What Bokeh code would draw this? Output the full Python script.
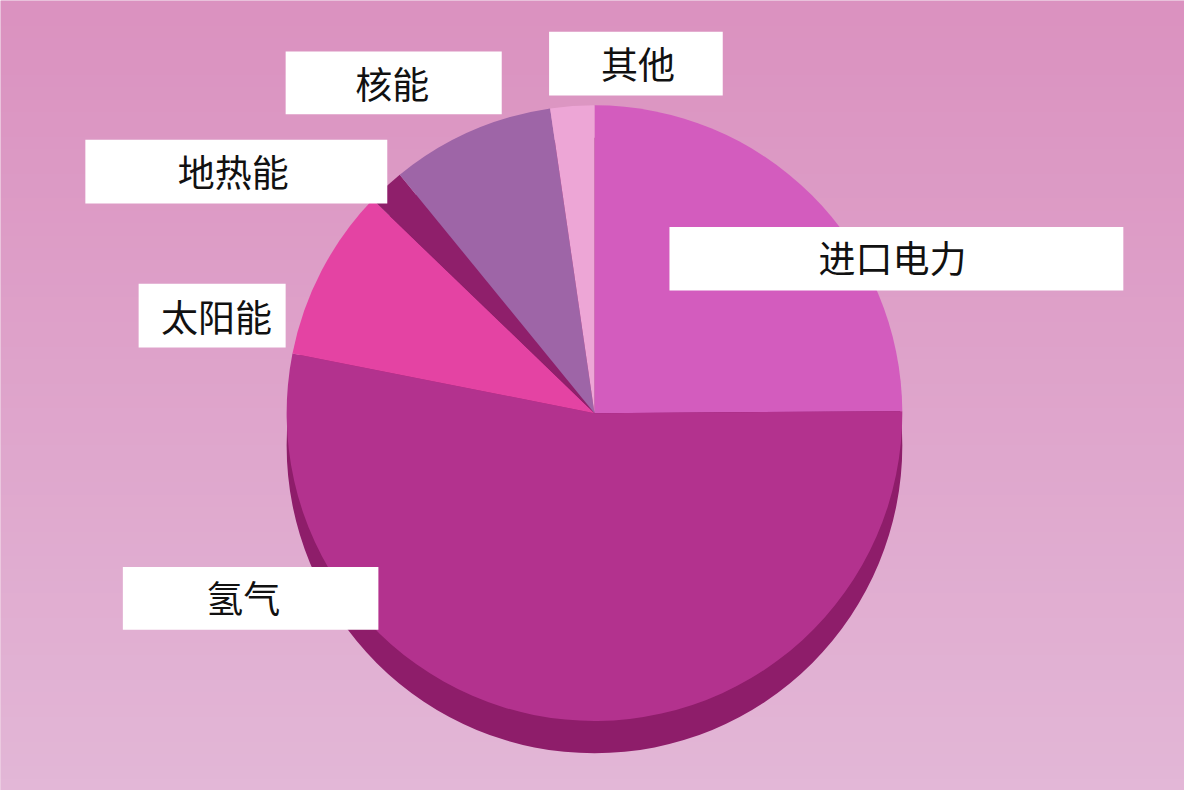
import math
import numpy as np
from bokeh.plotting import figure
from bokeh.models import ColumnDataSource, Range1d
from bokeh.core.properties import value
from bokeh.embed import file_html
from bokeh.resources import INLINE

# share of each energy source, clockwise from 12 o'clock
sources = ["进口电力", "氢气", "太阳能", "地热能", "核能", "其他"]
shares = [24.9, 53.2, 9.1, 1.9, 8.6, 2.3]
colors = ["#D35CBE", "#B3328E", "#E443A3", "#8F1F6B", "#9E65A7", "#EDA6D6"]

# label boxes (image pixel coords: left, right, top, bottom) and text centre
label_boxes = {
    "进口电力": (678, 1138, 231, 296, 904, 262),
    "氢气": (124, 383, 578, 642, 246, 609),
    "太阳能": (140, 289, 289, 354, 219, 322),
    "地热能": (86, 392, 142, 207, 236, 174),
    "核能": (289, 508, 52, 116, 397, 84),
    "其他": (556, 732, 32, 97, 646, 64),
}

W, H = 1200, 806
cx, cy, r, depth = 602, H - 421, 312, 33

p = figure(width=1184, height=790, output_backend="svg", toolbar_location=None, tools="",
           x_range=Range1d(0, W), y_range=Range1d(0, H), min_border=0)
p.xaxis.visible = False
p.yaxis.visible = False
p.xgrid.grid_line_color = None
p.ygrid.grid_line_color = None
p.outline_line_color = None
p.background_fill_color = "#DFA6CB"
p.border_fill_color = "#DFA6CB"

# background gradient: pinker at top, paler at bottom
n = 64
top = np.array([0xDB, 0x92, 0xC0])
bot = np.array([0xE3, 0xB7, 0xD7])
img = np.empty((n, 1), dtype=np.uint32)
view = img.view(dtype=np.uint8).reshape((n, 1, 4))
for i in range(n):
    t = i / (n - 1)
    c = bot * (1 - t) + top * t
    view[i, 0, 0:3] = c.astype(np.uint8)
    view[i, 0, 3] = 255
p.image_rgba(image=[img], x=0, y=0, dw=W, dh=H)

# pie slices, clockwise from the top
total = sum(shares)
ends, starts = [], []
cum = 0
for s in shares:
    a0 = math.pi / 2 - cum / total * 2 * math.pi
    cum += s
    a1 = math.pi / 2 - cum / total * 2 * math.pi
    starts.append(a1)
    ends.append(a0)
src = ColumnDataSource(data=dict(name=sources, share=shares, color=colors, start=starts, end=ends))

# side of the "3D" pie
p.wedge(x=cx, y=cy - depth, radius=r, start_angle=0, end_angle=2 * math.pi,
        color="#8E1D6A", line_color=None)
p.wedge(x=cx, y=cy, radius=r, start_angle="start", end_angle="end",
        fill_color="color", line_color=None, source=src)

# labels in white boxes
lx, ly, lt, bl, br, bt, bb = [], [], [], [], [], [], []
for name in sources:
    x0, x1, y0, y1, tx, ty = label_boxes[name]
    bl.append(x0); br.append(x1); bt.append(H - y0); bb.append(H - y1)
    lx.append(tx); ly.append(H - ty); lt.append(name)
p.quad(left=bl, right=br, top=bt, bottom=bb, fill_color="white", line_color=None)
p.text(x=lx, y=ly, text=lt, text_align="center", text_baseline="middle",
       text_color="#111111", text_font_size="37px", text_font=value("Noto Sans CJK SC"))

open("out.html", "w").write(file_html(p, INLINE))
